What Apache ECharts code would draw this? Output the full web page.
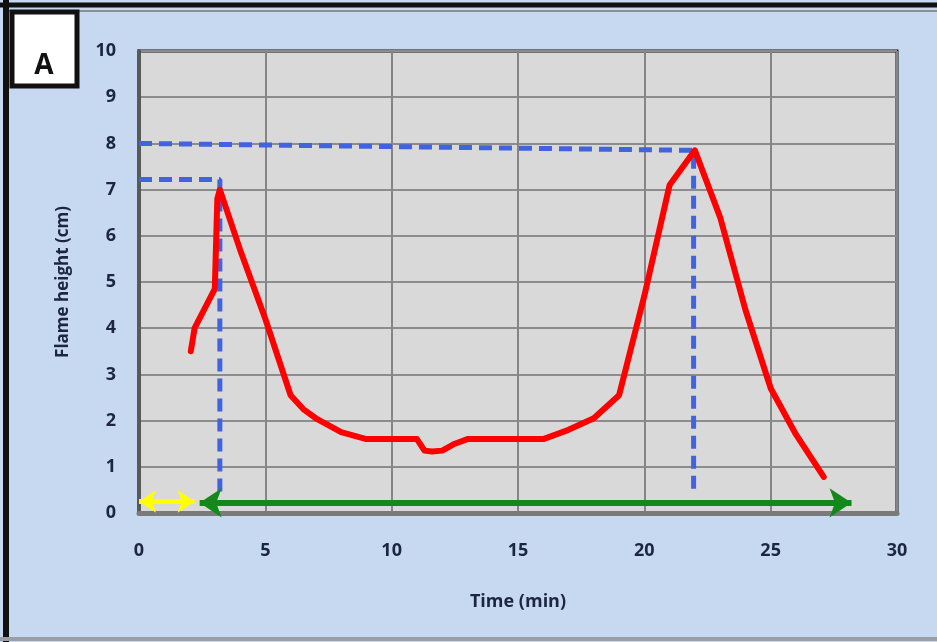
<!DOCTYPE html>
<html>
<head>
<meta charset="utf-8">
<script src="https://cdn.jsdelivr.net/npm/echarts@6/dist/echarts.min.js"></script>
<style>
html, body { margin: 0; padding: 0; background: #c6d9f1; }
#chart { width: 937px; height: 642px; }
</style>
</head>
<body>
<div id="chart"></div>
<script>
// flame height vs time (red curve)
var timeMin = [2.05, 2.2, 3.0, 3.1, 3.2, 4, 5, 6, 6.5, 7, 8, 9, 10, 11, 11.3, 11.6, 12, 12.5, 13, 14, 15, 16, 17, 18, 19, 20, 21, 22, 23, 24, 25, 26, 27.1];
var flameCm = [3.5, 4.0, 4.85, 6.8, 7.0, 5.7, 4.2, 2.55, 2.25, 2.05, 1.75, 1.6, 1.6, 1.6, 1.35, 1.33, 1.35, 1.5, 1.6, 1.6, 1.6, 1.6, 1.8, 2.05, 2.55, 4.7, 7.1, 7.85, 6.4, 4.4, 2.7, 1.7, 0.78];

// blue dashed guide lines
var guide1 = [[0, 7.22], [3.2, 7.22], [3.2, 0.4]];
var guide2 = [[0, 8.0], [21.95, 7.85], [21.95, 0.4]];

// arrows along the bottom
var yellowArrow = [[0, 0.25], [2.2, 0.25]];
var greenArrow = [[2.4, 0.22], [28.2, 0.22]];

var chart = echarts.init(document.getElementById('chart'));

function pairs(xs, ys) {
	var res = [];
	for (var i = 0; i < xs.length; i++) {
		res.push([xs[i], ys[i]]);
	}
	return res;
}

function arrowLine(pts, color, width, headSize) {
	return {
		type: 'line',
		data: [],
		silent: true,
		markLine: {
			silent: true,
			symbol: ['arrow', 'arrow'],
			symbolSize: [headSize, headSize],
			label: { show: false },
			lineStyle: { color: color, width: width, type: 'solid' },
			data: [[{ coord: pts[0] }, { coord: pts[1] }]],
			animation: false
		}
	};
}

var labelFont = {
	fontFamily: 'Open Sans',
	fontWeight: 'bold',
	fontSize: 18,
	color: '#1d2640'
};

option = {
	backgroundColor: '#c6d9f1',
	animation: false,
	grid: {
		left: 139,
		right: 40,
		top: 51,
		bottom: 129,
		show: true,
		backgroundColor: '#d9d9d9',
		borderColor: '#111',
		borderWidth: 3
	},
	xAxis: {
		type: 'value',
		min: 0,
		max: 30,
		interval: 5,
		name: 'Time (min)',
		nameLocation: 'middle',
		nameGap: 80,
		nameTextStyle: {
			fontFamily: 'Open Sans',
			fontWeight: 'bold',
			fontSize: 18,
			color: '#1d2640'
		},
		axisLine: { lineStyle: { color: '#7a7a7a', width: 5 } },
		axisTick: { show: false },
		axisLabel: Object.assign({ margin: 29 }, labelFont),
		splitLine: { show: true, lineStyle: { color: '#858585', width: 2 } }
	},
	yAxis: {
		type: 'value',
		min: 0,
		max: 10,
		interval: 1,
		name: 'Flame height (cm)',
		nameLocation: 'middle',
		nameGap: 67,
		nameTextStyle: {
			fontFamily: 'Open Sans',
			fontWeight: 'bold',
			fontSize: 17,
			color: '#1d2640'
		},
		axisLine: { lineStyle: { color: '#595959', width: 4 } },
		axisTick: { show: false },
		axisLabel: Object.assign({ margin: 23 }, labelFont),
		splitLine: { show: true, lineStyle: { color: '#8c8c8c', width: 2 } }
	},
	graphic: [
		{ type: 'line', shape: { x1: 6, y1: 0, x2: 6, y2: 642 }, style: { stroke: '#111', lineWidth: 6 }, z: 100 },
		{ type: 'line', shape: { x1: 0, y1: 5, x2: 937, y2: 5 }, style: { stroke: '#111', lineWidth: 5 }, z: 100 },
		{ type: 'line', shape: { x1: 9, y1: 11, x2: 937, y2: 11 }, style: { stroke: '#8a8f99', lineWidth: 2 }, z: 100 },
		{ type: 'line', shape: { x1: 0, y1: 639, x2: 937, y2: 639 }, style: { stroke: '#9a9ea6', lineWidth: 4 }, z: 100 },
		{ type: 'rect', shape: { x: 12, y: 12, width: 65, height: 74 }, style: { fill: '#fff', stroke: '#111', lineWidth: 5 }, z: 100 },
		{ type: 'text', x: 44, y: 66, style: { text: 'A', font: 'bold 28px "Open Sans"', fill: '#111', align: 'center', verticalAlign: 'middle' }, z: 101 }
	],
	series: [
		{
			name: 'guide1',
			type: 'line',
			data: guide1,
			symbol: 'none',
			lineStyle: { color: '#4263e0', width: 5, type: [13, 7] },
			z: 3
		},
		{
			name: 'guide2',
			type: 'line',
			data: guide2,
			symbol: 'none',
			lineStyle: { color: '#4263e0', width: 5, type: [13, 7] },
			z: 3
		},
		{
			name: 'flame',
			type: 'line',
			data: pairs(timeMin, flameCm),
			symbol: 'none',
			lineStyle: { color: '#ff0000', width: 6, join: 'round', cap: 'round' },
			z: 4
		},
		arrowLine(greenArrow, '#12891a', 6, 22),
		arrowLine(yellowArrow, '#ffff00', 5, 17)
	]
};

chart.setOption(option);
</script>
</body>
</html>
